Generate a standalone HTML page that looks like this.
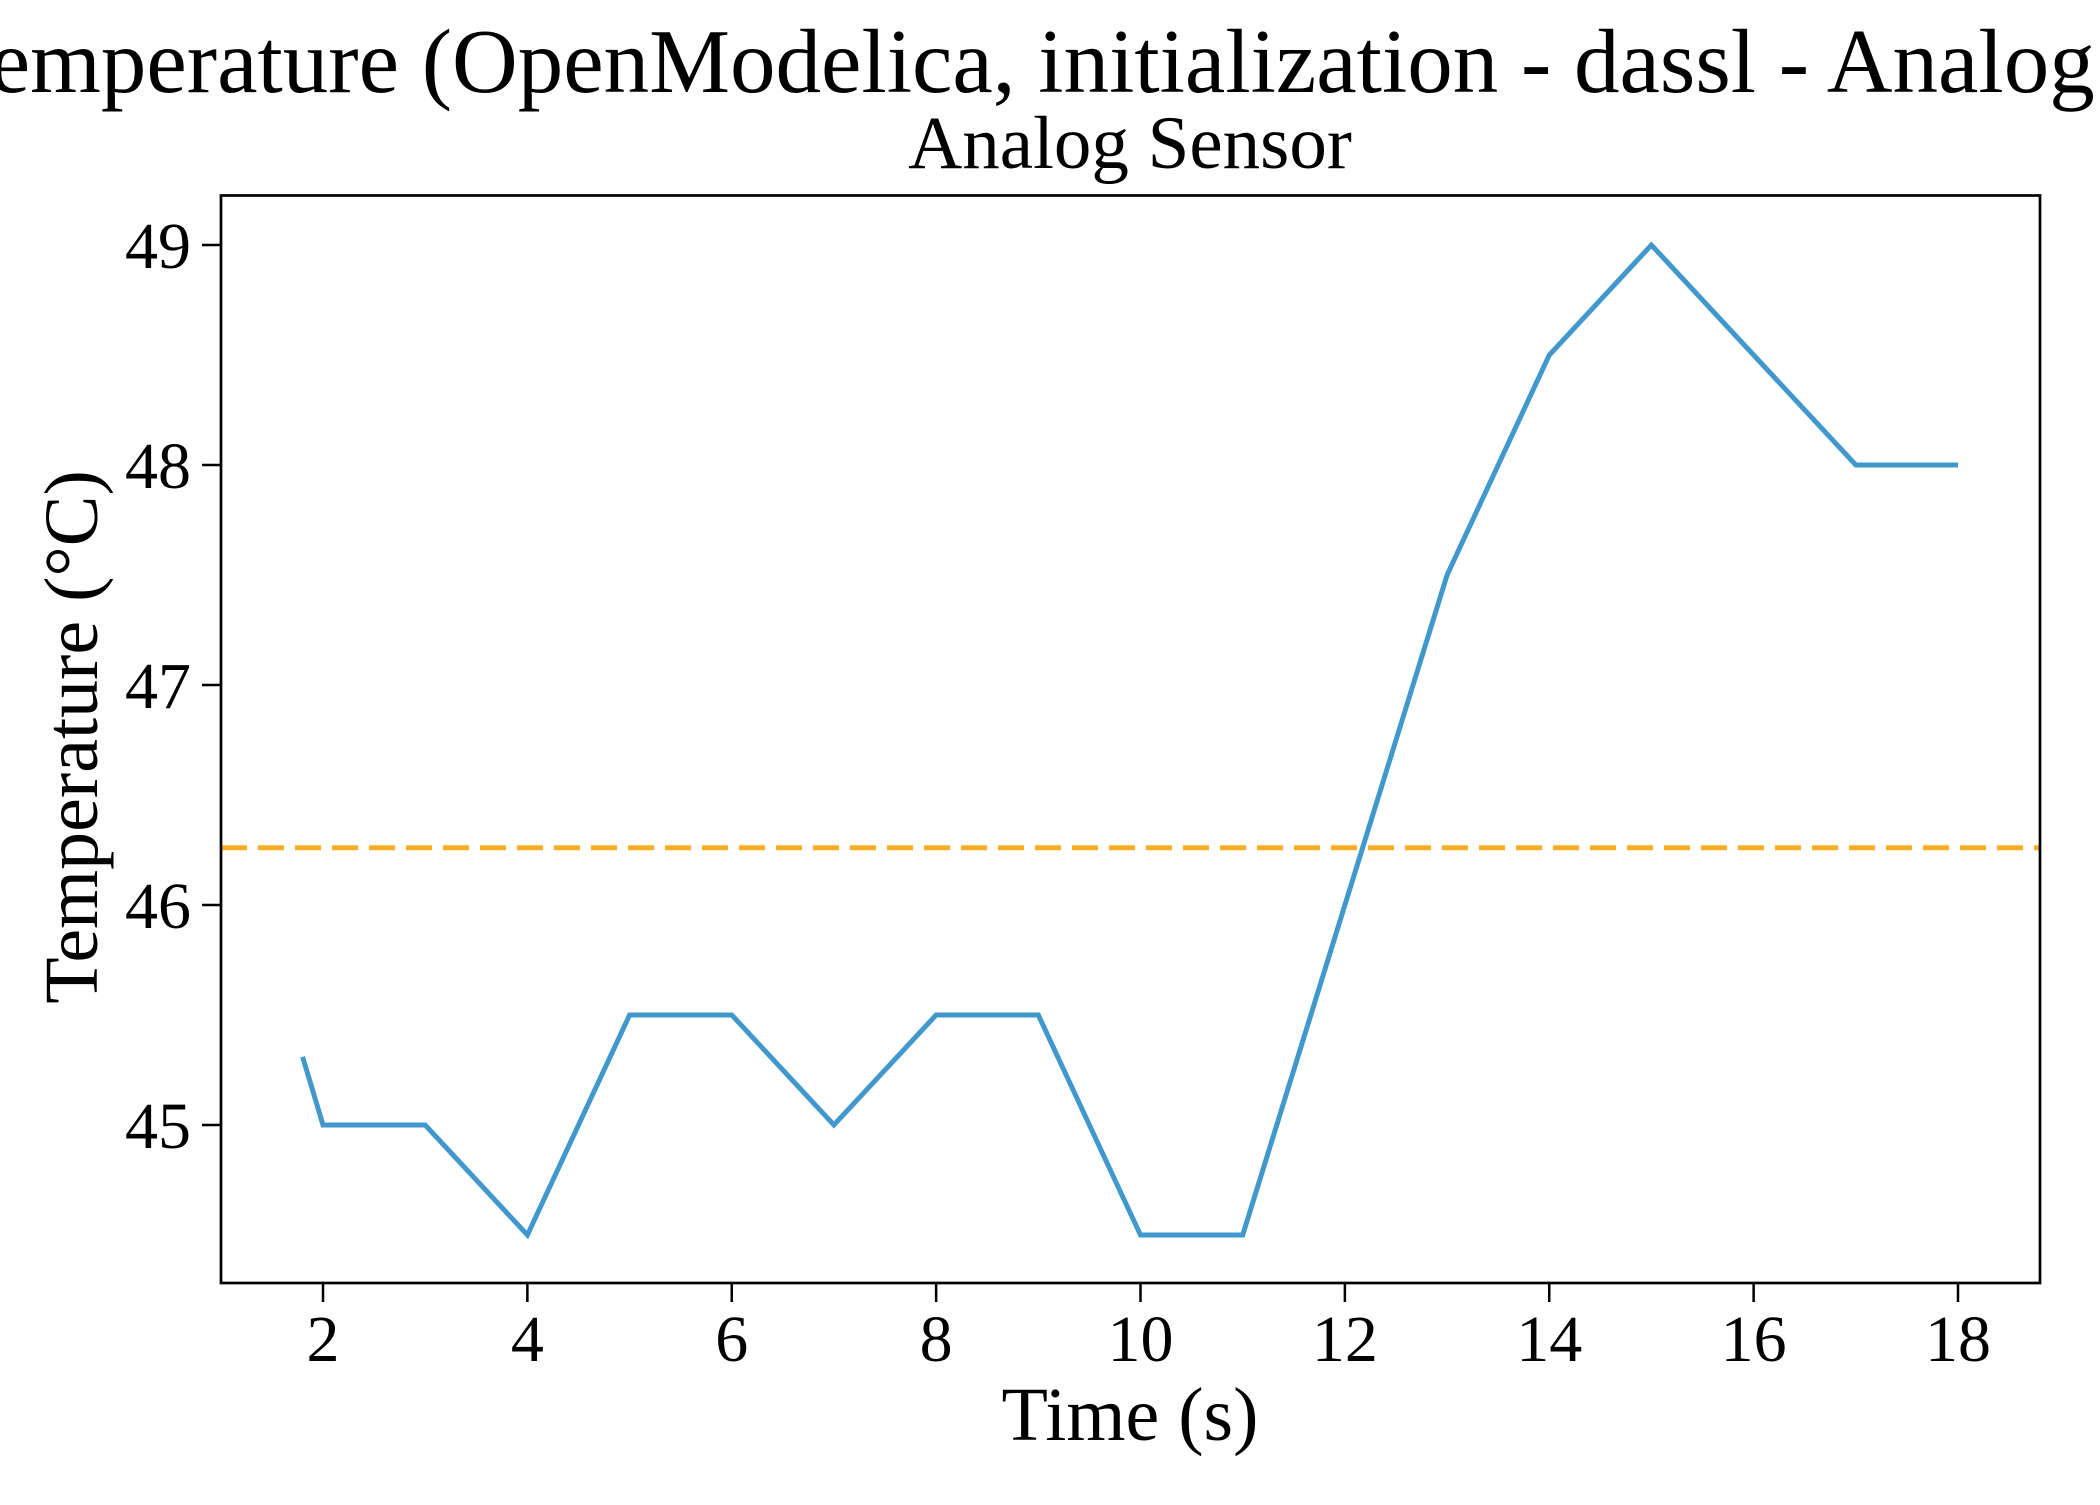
<!DOCTYPE html>
<html><head><meta charset="utf-8"><style>
html,body{margin:0;padding:0;background:#fff;overflow:hidden}
svg text{font-family:"Liberation Serif",serif;fill:#000}
</style></head><body>
<svg id="chart" width="2100" height="1500" viewBox="0 0 2100 1500" xmlns="http://www.w3.org/2000/svg">
<text x="1168" y="92" font-size="91" text-anchor="middle">Temperature (OpenModelica, initialization - dassl - Analog Sensor)</text>
<text x="1130" y="168" font-size="75" text-anchor="middle">Analog Sensor</text>
<g id="plot"></g>
<text x="1130" y="1440" font-size="76" text-anchor="middle">Time (s)</text>
<text transform="translate(97,737) rotate(-90)" font-size="76" text-anchor="middle">Temperature (°C)</text>
</svg>
<script>
const times = [1.8,2,3,4,5,6,7,8,9,10,11,12,13,14,15,16,17,18];
const temps = [45.31,45,45,44.5,45.5,45.5,45,45.5,45.5,44.5,44.5,46,47.5,48.5,49,48.5,48,48];
const threshold = [46.26];
const xTicks = [2,4,6,8,10,12,14,16,18];
const yTicks = [45,46,47,48,49];
const L=221,R=2040,T=195.5,B=1283;
function sx(v){return 323+(v-2)*(1958-323)/16;}
function sy(v){return 1125-(v-45)*(1125-245)/4;}
const NS='http://www.w3.org/2000/svg';
const g=document.getElementById('plot');
function mk(tag,attrs){const e=document.createElementNS(NS,tag);for(const k in attrs)e.setAttribute(k,attrs[k]);g.appendChild(e);return e;}
const th=mk('line',{x1:L,x2:R,y1:sy(threshold[0]),y2:sy(threshold[0]),stroke:'#fbad25','stroke-width':5,'stroke-dasharray':'26,11'});


const pts=times.map((t,i)=>sx(t).toFixed(1)+','+sy(temps[i]).toFixed(1)).join(' ');
const ln=mk('polyline',{points:pts,fill:'none',stroke:'#4198cd','stroke-width':5,'stroke-linejoin':'miter'});


const fr=mk('rect',{x:L,y:T,width:R-L,height:B-T,fill:'none',stroke:'#000','stroke-width':2.7});


xTicks.forEach(v=>{
  const t=mk('line',{x1:sx(v),x2:sx(v),y1:B,y2:B+19,stroke:'#000','stroke-width':2.5});
  
  
  const l=mk('text',{x:sx(v),y:B+78,'font-size':66,'text-anchor':'middle'});
  l.textContent=v;
  
  
});
yTicks.forEach(v=>{
  const t=mk('line',{x1:L-19,x2:L,y1:sy(v),y2:sy(v),stroke:'#000','stroke-width':2.5});
  
  
  const l=mk('text',{x:L-30,y:sy(v)+23,'font-size':66,'text-anchor':'end'});
  l.textContent=v;
  
  
});
</script>
</body></html>
